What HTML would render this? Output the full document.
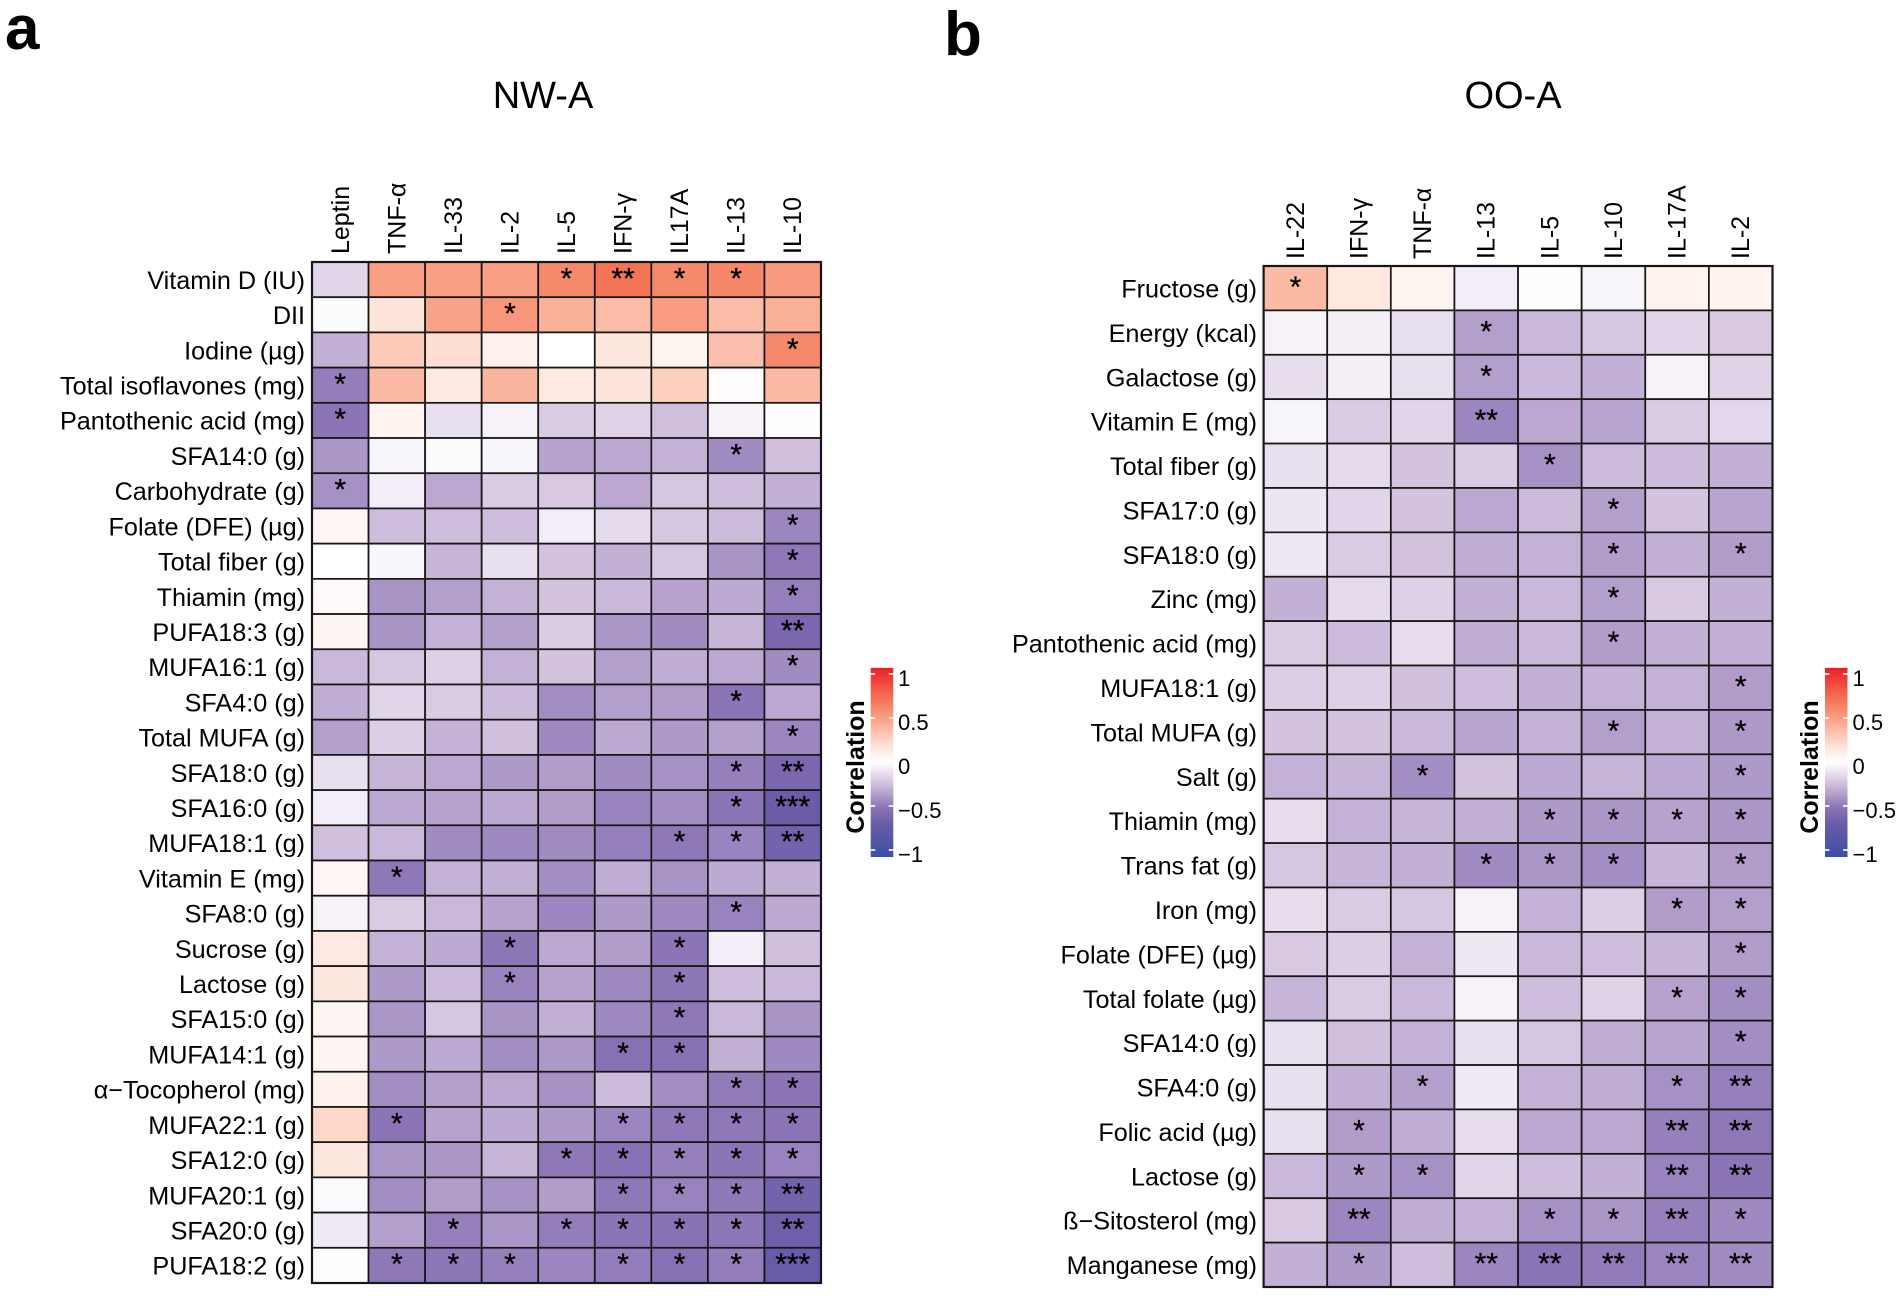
<!DOCTYPE html>
<html lang="en">
<head>
<meta charset="utf-8">
<title>Correlation heatmaps NW-A and OO-A</title>
<style>
html,body{margin:0;padding:0;background:#fff;}
svg{display:block;font-family:"Liberation Sans",Arial,sans-serif;}
</style>
</head>
<body>
<svg id="figure" width="1902" height="1296" viewBox="0 0 1902 1296" xmlns="http://www.w3.org/2000/svg">
<defs>
<linearGradient id="legend-gradient" x1="0" y1="0" x2="0" y2="1"></linearGradient>
</defs>
<text x="5" y="49" font-size="62" font-weight="700">a</text>
<text x="944" y="55" font-size="62" font-weight="700">b</text>
<text x="543" y="108" font-size="38" text-anchor="middle">NW-A</text>
<text x="1513" y="108" font-size="38" text-anchor="middle">OO-A</text>
<g id="panel-a"></g>
<g id="panel-b"></g>
<g id="legend-a"></g>
<g id="legend-b"></g>
</svg>
<script>
var aColumns = ["Leptin","TNF-α","IL-33","IL-2","IL-5","IFN-γ","IL17A","IL-13","IL-10"];
var aRows = ["Vitamin D (IU)","DII","Iodine (µg)","Total isoflavones (mg)","Pantothenic acid (mg)","SFA14:0 (g)","Carbohydrate (g)","Folate (DFE) (µg)","Total fiber (g)","Thiamin (mg)","PUFA18:3 (g)","MUFA16:1 (g)","SFA4:0 (g)","Total MUFA (g)","SFA18:0 (g)","SFA16:0 (g)","MUFA18:1 (g)","Vitamin E (mg)","SFA8:0 (g)","Sucrose (g)","Lactose (g)","SFA15:0 (g)","MUFA14:1 (g)","α−Tocopherol (mg)","MUFA22:1 (g)","SFA12:0 (g)","MUFA20:1 (g)","SFA20:0 (g)","PUFA18:2 (g)"];
var aValues = [
[-.16,.5,.5,.5,.62,.72,.62,.63,.53],
[-.02,.17,.48,.55,.42,.37,.52,.37,.43],
[-.3,.3,.21,.09,0,.16,.07,.35,.62],
[-.48,.38,.14,.4,.14,.17,.28,.02,.38],
[-.52,.08,-.12,-.05,-.2,-.17,-.24,-.05,.01],
[-.39,-.04,-.02,-.04,-.35,-.33,-.29,-.43,-.24],
[-.41,-.07,-.33,-.2,-.21,-.33,-.22,-.25,-.3],
[.05,-.25,-.25,-.25,-.07,-.14,-.22,-.26,-.45],
[0,-.03,-.28,-.12,-.23,-.3,-.22,-.4,-.5],
[.03,-.4,-.36,-.29,-.23,-.27,-.35,-.32,-.47],
[.06,-.4,-.29,-.36,-.2,-.39,-.43,-.28,-.62],
[-.27,-.22,-.18,-.29,-.23,-.36,-.31,-.33,-.43],
[-.31,-.16,-.2,-.26,-.42,-.36,-.37,-.52,-.33],
[-.36,-.19,-.29,-.24,-.44,-.32,-.38,-.36,-.45],
[-.12,-.28,-.33,-.38,-.37,-.43,-.41,-.47,-.62],
[-.07,-.32,-.35,-.32,-.37,-.46,-.42,-.53,-.7],
[-.24,-.27,-.43,-.44,-.43,-.47,-.5,-.46,-.65],
[.05,-.5,-.29,-.3,-.42,-.31,-.4,-.32,-.3],
[-.05,-.2,-.27,-.35,-.45,-.38,-.44,-.46,-.32],
[.14,-.29,-.32,-.51,-.33,-.37,-.52,-.07,-.24],
[.16,-.38,-.26,-.46,-.35,-.44,-.51,-.25,-.27],
[.06,-.39,-.22,-.4,-.3,-.44,-.5,-.27,-.4],
[.06,-.38,-.32,-.42,-.38,-.55,-.55,-.3,-.44],
[.1,-.42,-.36,-.33,-.41,-.26,-.42,-.49,-.52],
[.24,-.52,-.35,-.32,-.38,-.45,-.5,-.5,-.52],
[.16,-.39,-.39,-.28,-.5,-.54,-.47,-.52,-.46],
[-.02,-.42,-.37,-.41,-.37,-.5,-.46,-.5,-.65],
[-.08,-.36,-.47,-.39,-.48,-.52,-.54,-.51,-.68],
[.01,-.5,-.51,-.47,-.45,-.48,-.55,-.48,-.72]
];
var aStars = [
[0,0,0,0,1,2,1,1,0],[0,0,0,1,0,0,0,0,0],[0,0,0,0,0,0,0,0,1],[1,0,0,0,0,0,0,0,0],
[1,0,0,0,0,0,0,0,0],[0,0,0,0,0,0,0,1,0],[1,0,0,0,0,0,0,0,0],[0,0,0,0,0,0,0,0,1],
[0,0,0,0,0,0,0,0,1],[0,0,0,0,0,0,0,0,1],[0,0,0,0,0,0,0,0,2],[0,0,0,0,0,0,0,0,1],
[0,0,0,0,0,0,0,1,0],[0,0,0,0,0,0,0,0,1],[0,0,0,0,0,0,0,1,2],[0,0,0,0,0,0,0,1,3],
[0,0,0,0,0,0,1,1,2],[0,1,0,0,0,0,0,0,0],[0,0,0,0,0,0,0,1,0],[0,0,0,1,0,0,1,0,0],
[0,0,0,1,0,0,1,0,0],[0,0,0,0,0,0,1,0,0],[0,0,0,0,0,1,1,0,0],[0,0,0,0,0,0,0,1,1],
[0,1,0,0,0,1,1,1,1],[0,0,0,0,1,1,1,1,1],[0,0,0,0,0,1,1,1,2],[0,0,1,0,1,1,1,1,2],
[0,1,1,1,0,1,1,1,3]
];
var bColumns = ["IL-22","IFN-γ","TNF-α","IL-13","IL-5","IL-10","IL-17A","IL-2"];
var bRows = ["Fructose (g)","Energy (kcal)","Galactose (g)","Vitamin E (mg)","Total fiber (g)","SFA17:0 (g)","SFA18:0 (g)","Zinc (mg)","Pantothenic acid (mg)","MUFA18:1 (g)","Total MUFA (g)","Salt (g)","Thiamin (mg)","Trans fat (g)","Iron (mg)","Folate (DFE) (µg)","Total folate (µg)","SFA14:0 (g)","SFA4:0 (g)","Folic acid (µg)","Lactose (g)","ß−Sitosterol (mg)","Manganese (mg)"];
var bValues = [
[.38,.15,.07,-.07,-.01,-.04,.08,.08],
[-.05,-.06,-.12,-.36,-.27,-.22,-.16,-.21],
[-.13,-.06,-.12,-.36,-.27,-.3,-.05,-.17],
[-.04,-.2,-.16,-.45,-.33,-.34,-.2,-.15],
[-.12,-.14,-.23,-.2,-.41,-.26,-.26,-.3],
[-.1,-.16,-.23,-.33,-.26,-.36,-.23,-.34],
[-.09,-.2,-.23,-.31,-.29,-.37,-.3,-.37],
[-.3,-.14,-.18,-.3,-.27,-.36,-.21,-.3],
[-.2,-.26,-.13,-.31,-.27,-.37,-.3,-.3],
[-.19,-.18,-.24,-.25,-.3,-.29,-.29,-.37],
[-.23,-.23,-.27,-.34,-.29,-.36,-.29,-.38],
[-.29,-.28,-.42,-.23,-.32,-.28,-.32,-.38],
[-.13,-.29,-.28,-.3,-.38,-.39,-.35,-.39],
[-.22,-.28,-.3,-.43,-.39,-.42,-.28,-.37],
[-.13,-.2,-.22,-.05,-.29,-.19,-.37,-.36],
[-.21,-.19,-.29,-.09,-.27,-.25,-.28,-.37],
[-.28,-.2,-.27,-.05,-.25,-.17,-.35,-.42],
[-.12,-.24,-.29,-.12,-.22,-.31,-.34,-.42],
[-.12,-.3,-.36,-.08,-.29,-.31,-.41,-.47],
[-.12,-.37,-.31,-.13,-.33,-.33,-.47,-.5],
[-.27,-.38,-.41,-.16,-.25,-.3,-.46,-.52],
[-.21,-.45,-.31,-.29,-.41,-.39,-.47,-.44],
[-.3,-.38,-.25,-.45,-.53,-.49,-.45,-.43]
];
var bStars = [
[1,0,0,0,0,0,0,0],[0,0,0,1,0,0,0,0],[0,0,0,1,0,0,0,0],[0,0,0,2,0,0,0,0],
[0,0,0,0,1,0,0,0],[0,0,0,0,0,1,0,0],[0,0,0,0,0,1,0,1],[0,0,0,0,0,1,0,0],
[0,0,0,0,0,1,0,0],[0,0,0,0,0,0,0,1],[0,0,0,0,0,1,0,1],[0,0,1,0,0,0,0,1],
[0,0,0,0,1,1,1,1],[0,0,0,1,1,1,0,1],[0,0,0,0,0,0,1,1],[0,0,0,0,0,0,0,1],
[0,0,0,0,0,0,1,1],[0,0,0,0,0,0,0,1],[0,0,1,0,0,0,1,2],[0,1,0,0,0,0,2,2],
[0,1,1,0,0,0,2,2],[0,2,0,0,1,1,2,1],[0,1,0,2,2,2,2,2]
];
var legendTicks = [1, 0.5, 0, -0.5, -1];
var legendTickLabels = ["1", "0.5", "0", "−0.5", "−1"];
var colorStops = [
[-1.08,"#3a50a3"],[-0.7,"#6c5ca8"],[-0.5,"#8e78b8"],[-0.35,"#b6a2cd"],[-0.2,"#dacbe4"],
[0,"#ffffff"],[0.2,"#fde0d5"],[0.5,"#f9a084"],[0.7,"#f4795a"],[1.08,"#ec1f26"]
];

var NS = "http://www.w3.org/2000/svg";
function mk(parent, tag, attrs, text) {
  var el = document.createElementNS(NS, tag);
  for (var k in attrs) el.setAttribute(k, attrs[k]);
  if (text !== undefined) el.textContent = text;
  parent.appendChild(el);
  return el;
}
function hexToRgb(h) {
  return [parseInt(h.substr(1,2),16), parseInt(h.substr(3,2),16), parseInt(h.substr(5,2),16)];
}
function colorScale(v) {
  var s = colorStops;
  if (v <= s[0][0]) return s[0][1];
  for (var i = 1; i < s.length; i++) {
    if (v <= s[i][0]) {
      var t = (v - s[i-1][0]) / (s[i][0] - s[i-1][0]);
      var a = hexToRgb(s[i-1][1]), b = hexToRgb(s[i][1]);
      return "rgb(" + [0,1,2].map(function(c){ return Math.round(a[c] + (b[c]-a[c])*t); }).join(",") + ")";
    }
  }
  return s[s.length-1][1];
}
function slug(s) {
  return s.toLowerCase().replace(/[^a-z0-9]+/g, "-").replace(/^-|-$/g, "");
}
function drawHeatmap(groupId, columns, rows, values, stars, left, right, top, bottom, colLabelBottom, labelRight) {
  var g = document.getElementById(groupId);
  var cw = (right - left) / columns.length;
  var ch = (bottom - top) / rows.length;
  function xScale(i) { return left + i * cw; }
  function yScale(j) { return top + j * ch; }
  columns.forEach(function (name, i) {
    var t = mk(g, "text", {
      x: 0, y: 0, "font-size": 25,
      transform: "translate(" + (xScale(i) + cw/2 + 8.5) + "," + colLabelBottom + ") rotate(-90)"
    }, name);
    
    
  });
  rows.forEach(function (name, j) {
    var t = mk(g, "text", {
      x: labelRight, y: yScale(j) + ch/2 + 9.3, "font-size": 25.2, "text-anchor": "end"
    }, name);
    
    
  });
  values.forEach(function (row, j) {
    row.forEach(function (v, i) {
      var r = mk(g, "rect", {
        x: xScale(i), y: yScale(j), width: cw, height: ch,
        fill: colorScale(v), stroke: "#161616", "stroke-width": 1.7
      });
      
      
    });
  });
  stars.forEach(function (row, j) {
    row.forEach(function (n, i) {
      if (!n) return;
      var t = mk(g, "text", {
        x: xScale(i) + cw/2, y: yScale(j) + ch/2 + 8.8, "font-size": 30, "text-anchor": "middle",
        stroke: "#000", "stroke-width": 0.3
      }, "***".slice(0, n));
      
      
    });
  });
  var f = mk(g, "rect", {
    x: left, y: top, width: right - left, height: bottom - top,
    fill: "none", stroke: "#161616", "stroke-width": 2.2
  });
  
  
}
function drawLegend(groupId, barLeft, barRight, titleX, labelX) {
  var g = document.getElementById(groupId);
  var y0 = 762, unit = 88;
  function yScale(v) { return y0 - v * unit; }
  var top = yScale(1.07), bottom = yScale(-1.08);
  var bar = mk(g, "rect", {
    x: barLeft, y: top, width: barRight - barLeft, height: bottom - top, fill: "url(#legend-gradient)"
  });
  
  
  var w = (barRight - barLeft) / 5;
  legendTicks.forEach(function (v, i) {
    var y = yScale(v);
    if (v !== 0) {
      var t1 = mk(g, "line", { x1: barLeft, x2: barLeft + w, y1: y, y2: y, stroke: "#fff", "stroke-width": 1.6 });
      
      
      var t2 = mk(g, "line", { x1: barRight - w, x2: barRight, y1: y, y2: y, stroke: "#fff", "stroke-width": 1.6 });
      
      
    }
    var l = mk(g, "text", { x: labelX, y: y + 12, "font-size": 22 }, legendTickLabels[i]);
    
    
  });
  var title = mk(g, "text", {
    "font-size": 25, "font-weight": 700, "text-anchor": "middle",
    transform: "translate(" + titleX + ",767) rotate(-90)"
  }, "Correlation");
  
  
}
(function () {
  var grad = document.getElementById("legend-gradient");
  var lo = colorStops[0][0], hi = colorStops[colorStops.length - 1][0];
  colorStops.slice().reverse().forEach(function (s) {
    mk(grad, "stop", { offset: (hi - s[0]) / (hi - lo), "stop-color": s[1] });
  });
})();
drawHeatmap("panel-a", aColumns, aRows, aValues, aStars, 312, 821, 262, 1283, 254, 305);
drawHeatmap("panel-b", bColumns, bRows, bValues, bStars, 1263.6, 1772.5, 266, 1287, 259, 1257);
drawLegend("legend-a", 870.7, 893.3, 864, 898);
drawLegend("legend-b", 1825, 1847.5, 1818, 1852.5);
</script>
</body>
</html>
